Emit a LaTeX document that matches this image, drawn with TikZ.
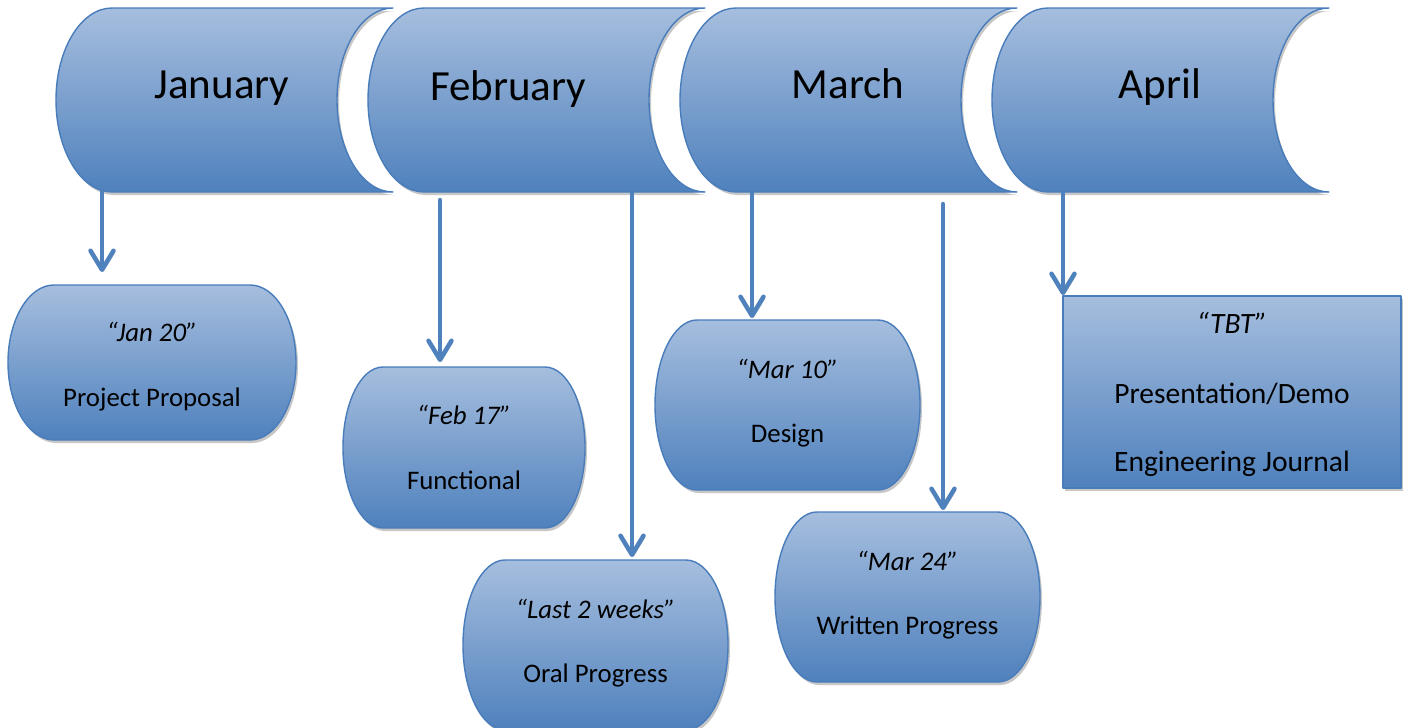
\documentclass[tikz,border=0pt]{standalone}
\usepackage{fontspec}
\setmainfont{Carlito}
\usetikzlibrary{arrows.meta,shadows,fit}

\definecolor{fadetop}{RGB}{166,190,222}
\definecolor{fadebot}{RGB}{79,129,189}
\definecolor{rim}{RGB}{72,124,186}
\definecolor{linkblue}{RGB}{79,129,189}

\tikzset{
  x=1pt, y=-1pt,
  shaded shape/.style={draw=rim, line width=1.4pt, line join=round,
    top color=fadetop, bottom color=fadebot,
    drop shadow={shadow xshift=2pt, shadow yshift=-3pt, fill=black!22, opacity=1}},
  month label/.style={anchor=base, inner sep=0pt, font=\fontsize{43pt}{50pt}\selectfont},
  date label/.style={anchor=base, inner sep=0pt, font=\fontsize{26.8pt}{30pt}\selectfont\itshape},
  task label/.style={anchor=base, inner sep=0pt, font=\fontsize{26.8pt}{30pt}\selectfont},
  big date label/.style={date label, font=\fontsize{29.5pt}{34pt}\selectfont\itshape},
  big task label/.style={task label, font=\fontsize{29.5pt}{34pt}\selectfont},
  frame/.style={inner sep=0pt, outer sep=0pt},
  link/.style={draw=linkblue, line width=4.5pt, line cap=round,
    -{Straight Barb[length=19pt, width=23pt, line cap=round, line join=round]},
    preaction={draw=black!18, transform canvas={shift={(1.5pt,-2pt)}}}},
}

% month banner: convex left side, concave right side
\newcommand{\monthbanner}[1]{%
  \path[shaded shape] (#1+56,8) -- (#1+337,8)
    arc[start angle=270, end angle=90, x radius=56, y radius=92]
    -- (#1+56,192)
    arc[start angle=90, end angle=270, x radius=56, y radius=92] -- cycle;}

% milestone box with elliptic ends, plus a named frame node around it
\newcommand{\milestone}[6]{%
  \path[shaded shape] (#2+#6,#3) -- (#4-#6,#3)
    arc[start angle=-90, end angle=90, x radius=#6, y radius={(#5-#3)/2}]
    -- (#2+#6,#5)
    arc[start angle=90, end angle=270, x radius=#6, y radius={(#5-#3)/2}] -- cycle;
  \node[frame, fit={(#2,#3) (#4,#5)}] (#1) {};}

\begin{document}
\begin{tikzpicture}
\useasboundingbox[fill=white] (0,0) rectangle (1406,728);

% month banners
\monthbanner{56}
\monthbanner{368}
\monthbanner{680}
\monthbanner{992}

\node[month label] (janM) at (222,98)  {January};
\node[month label] (febM) at (508,100) {February};
\node[month label] (marM) at (848,98)  {March};
\node[month label] (aprM) at (1160,98) {April};

% milestone boxes
\milestone{jan}{8}{285}{296}{440}{46}
\milestone{feb}{343}{367}{585}{528}{40}
\milestone{oral}{463}{560}{728}{730}{42}
\milestone{design}{655}{320}{920}{490}{42}
\milestone{written}{775}{512}{1040}{682}{42}
\path[shaded shape] (1063,296) rectangle (1401,488);
\node[frame, fit={(1063,296) (1401,488)}] (tbt) {};

% box texts
\node[date label] (janD) at (152,341) {“Jan 20”};
\node[task label] (janT) at (152,406) {Project Proposal};
\node[date label] (febD) at (464,424) {“Feb 17”};
\node[task label] (febT) at (464,489) {Functional};
\node[date label] (oralD) at (595.5,618) {“Last 2 weeks”};
\node[task label] (oralT) at (595.5,682) {Oral Progress};
\node[date label] (desD) at (787.5,378) {“Mar 10”};
\node[task label] (desT) at (787.5,442) {Design};
\node[date label] (wriD) at (907.5,570) {“Mar 24”};
\node[task label] (wriT) at (907.5,634) {Written Progress};
\node[big date label] (tbtD) at (1232,333) {“TBT”};
\node[big task label] (tbtT) at (1232,403) {Presentation/Demo};
\node[big task label] (tbtE) at (1232,471) {Engineering Journal};

% connector starts under the banners
\coordinate (sJan)  at (102,192);
\coordinate (sFeb)  at (440,200);
\coordinate (sOral) at (632,192);
\coordinate (sDes)  at (752,192);
\coordinate (sWri)  at (943,204);
\coordinate (sTbt)  at (1063,192);

\draw[link, shorten >=13pt] (sJan)  -- (sJan  |- jan.north);
\draw[link, shorten >=5pt]  (sFeb)  -- (sFeb  |- feb.north);
\draw[link, shorten >=3pt]  (sOral) -- (sOral |- oral.north);
\draw[link, shorten >=2pt]  (sDes)  -- (sDes  |- design.north);
\draw[link, shorten >=2pt]  (sWri)  -- (sWri  |- written.north);
\draw[link, shorten >=1pt]  (sTbt)  -- (sTbt  |- tbt.north);
\end{tikzpicture}
\end{document}
